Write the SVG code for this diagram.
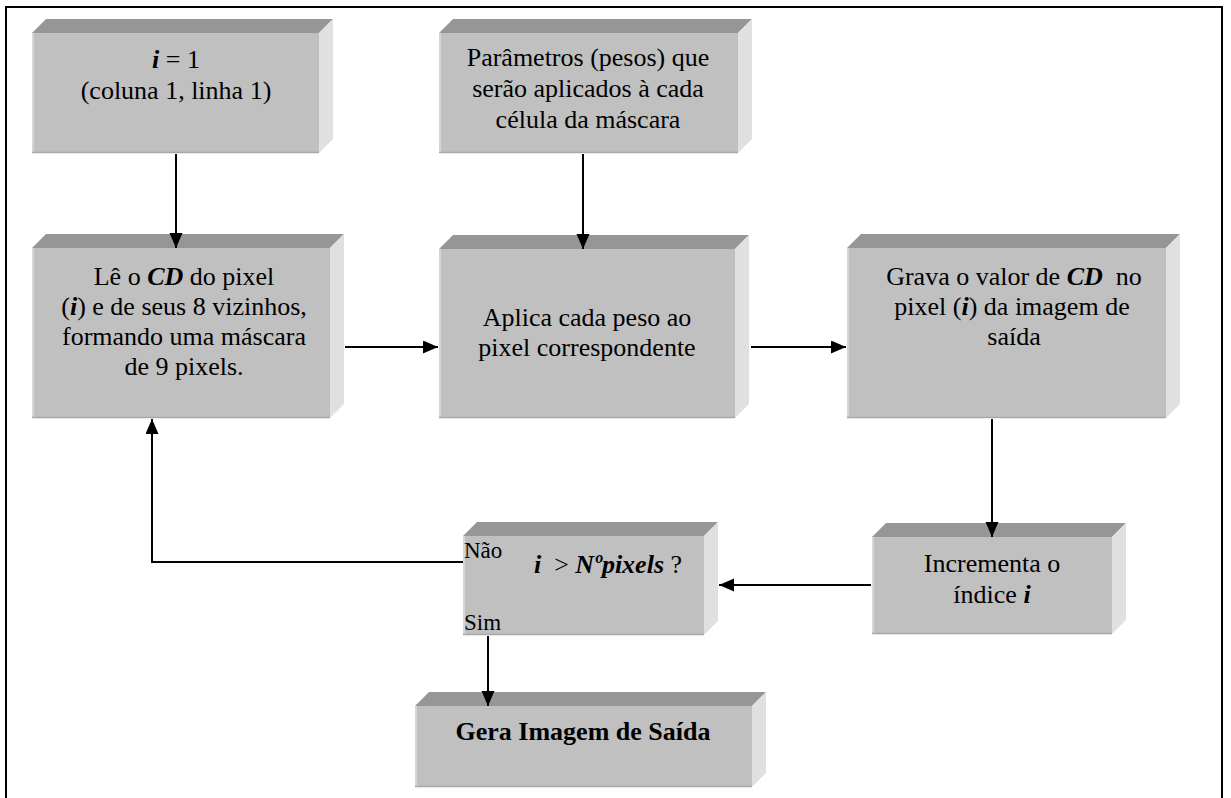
<svg xmlns="http://www.w3.org/2000/svg" width="1231" height="798" viewBox="0 0 1231 798">
<style>
.front{fill:#c0c0c0}
.edgeL{stroke:#d6d6d6;stroke-width:2}
.edgeB{stroke:#a8a8a8;stroke-width:1.5}
.top{fill:#969696}
.side{fill:#e0e0e0}
.t{font-family:"Liberation Serif","Times New Roman","DejaVu Serif",serif;font-size:26px;fill:#000;text-anchor:middle}
.s{font-family:"Liberation Serif","Times New Roman","DejaVu Serif",serif;font-size:23px;fill:#000}
.bi{font-weight:bold;font-style:italic}
.b{font-weight:bold}
.c{fill:none;stroke:#000;stroke-width:2}
</style>
<defs>
<marker id="arr" markerUnits="userSpaceOnUse" markerWidth="16" markerHeight="14" refX="15" refY="6.5" orient="auto">
<path d="M0,0 L15,6.5 L0,13 Z" fill="#000"/>
</marker>
</defs>
<rect width="1231" height="798" fill="#fff"/>
<path d="M6,798 V7 H1222 V798" fill="none" stroke="#000" stroke-width="2"/>

<g id="n1">
<polygon class="top" points="32,33 46,19 333,19 319,33"/>
<polygon class="side" points="319,33 333,19 333,139 319,153"/>
<rect class="front" x="32" y="33" width="287" height="120"/>
<line class="edgeL" x1="33" y1="33" x2="33" y2="153"/>
<line class="edgeB" x1="32" y1="152.5" x2="319" y2="152.5"/>
<text class="t" x="176" y="68"><tspan class="bi">i</tspan> = 1</text>
<text class="t" x="176" y="99">(coluna 1, linha 1)</text>
</g>

<g id="n2">
<polygon class="top" points="439,33 453,19 752,19 738,33"/>
<polygon class="side" points="738,33 752,19 752,139 738,153"/>
<rect class="front" x="439" y="33" width="299" height="120"/>
<line class="edgeL" x1="440" y1="33" x2="440" y2="153"/>
<line class="edgeB" x1="439" y1="152.5" x2="738" y2="152.5"/>
<text class="t" x="588" y="66">Parâmetros (pesos) que</text>
<text class="t" x="588" y="97">serão aplicados à cada</text>
<text class="t" x="588" y="128">célula da máscara</text>
</g>

<g id="n3">
<polygon class="top" points="32,248 46,234 344,234 330,248"/>
<polygon class="side" points="330,248 344,234 344,404 330,418"/>
<rect class="front" x="32" y="248" width="298" height="170"/>
<line class="edgeL" x1="33" y1="248" x2="33" y2="418"/>
<line class="edgeB" x1="32" y1="417.5" x2="330" y2="417.5"/>
<text class="t" x="184" y="285">Lê o <tspan class="bi">CD</tspan> do pixel</text>
<text class="t" x="184" y="315">(<tspan class="bi">i</tspan>) e de seus 8 vizinhos,</text>
<text class="t" x="184" y="345">formando uma máscara</text>
<text class="t" x="184" y="375">de 9 pixels.</text>
</g>

<g id="n4">
<polygon class="top" points="439,249 453,235 749,235 735,249"/>
<polygon class="side" points="735,249 749,235 749,404 735,418"/>
<rect class="front" x="439" y="249" width="296" height="169"/>
<line class="edgeL" x1="440" y1="249" x2="440" y2="418"/>
<line class="edgeB" x1="439" y1="417.5" x2="735" y2="417.5"/>
<text class="t" x="587" y="326">Aplica cada peso ao</text>
<text class="t" x="587" y="356">pixel correspondente</text>
</g>

<g id="n5">
<polygon class="top" points="847,248 861,234 1180,234 1166,248"/>
<polygon class="side" points="1166,248 1180,234 1180,404 1166,418"/>
<rect class="front" x="847" y="248" width="319" height="170"/>
<line class="edgeL" x1="848" y1="248" x2="848" y2="418"/>
<line class="edgeB" x1="847" y1="417.5" x2="1166" y2="417.5"/>
<text class="t" x="1014" y="285">Grava o valor de <tspan class="bi">CD</tspan> &#160;no</text>
<text class="t" x="1012" y="315">pixel (<tspan class="bi">i</tspan>) da imagem de</text>
<text class="t" x="1014" y="345">saída</text>
</g>

<g id="n6">
<polygon class="top" points="463,536 477,522 718,522 704,536"/>
<polygon class="side" points="704,536 718,522 718,621 704,635"/>
<rect class="front" x="463" y="536" width="241" height="99"/>
<line class="edgeL" x1="464" y1="536" x2="464" y2="635"/>
<line class="edgeB" x1="463" y1="634.5" x2="704" y2="634.5"/>
<text class="s" x="464" y="558">Não</text>
<text class="t" x="608" y="573"><tspan class="bi">i</tspan> &#160;&gt; <tspan class="bi">Nºpixels</tspan> ?</text>
<text class="s" x="464" y="630">Sim</text>
</g>

<g id="n7">
<polygon class="top" points="872,537 886,523 1126,523 1112,537"/>
<polygon class="side" points="1112,537 1126,523 1126,620 1112,634"/>
<rect class="front" x="872" y="537" width="240" height="97"/>
<line class="edgeL" x1="873" y1="537" x2="873" y2="634"/>
<line class="edgeB" x1="872" y1="633.5" x2="1112" y2="633.5"/>
<text class="t" x="992" y="572">Incrementa o</text>
<text class="t" x="992" y="603">índice <tspan class="bi">i</tspan></text>
</g>

<g id="n8">
<polygon class="top" points="415,706 429,692 766,692 752,706"/>
<polygon class="side" points="752,706 766,692 766,773 752,787"/>
<rect class="front" x="415" y="706" width="337" height="81"/>
<line class="edgeL" x1="416" y1="706" x2="416" y2="787"/>
<line class="edgeB" x1="415" y1="786.5" x2="752" y2="786.5"/>
<text class="t b" x="583" y="740">Gera Imagem de Saída</text>
</g>

<g id="connectors">
<line class="c" x1="176" y1="154" x2="176" y2="248" marker-end="url(#arr)"/>
<line class="c" x1="583" y1="154" x2="583" y2="249" marker-end="url(#arr)"/>
<line class="c" x1="345" y1="347" x2="438" y2="347" marker-end="url(#arr)"/>
<line class="c" x1="751" y1="347" x2="846" y2="347" marker-end="url(#arr)"/>
<line class="c" x1="992" y1="419" x2="992" y2="537" marker-end="url(#arr)"/>
<line class="c" x1="871" y1="585" x2="719" y2="585" marker-end="url(#arr)"/>
<polyline class="c" points="463,562 152,562 152,419" marker-end="url(#arr)"/>
<line class="c" x1="488" y1="636" x2="488" y2="706" marker-end="url(#arr)"/>
</g>
</svg>
